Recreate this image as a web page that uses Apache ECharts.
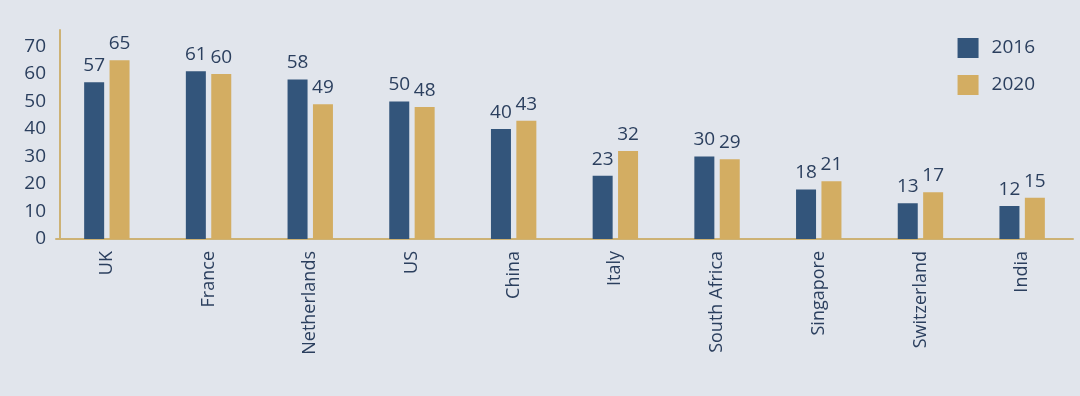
<!DOCTYPE html>
<html><head><meta charset="utf-8">
<script src="https://cdn.jsdelivr.net/npm/echarts@6/dist/echarts.min.js"></script>
<style>html,body{margin:0;padding:0;background:#e1e5ec;}#c{width:1080px;height:396px;}</style>
</head><body><div id="c"></div>
<script>
const categories = ['UK','France','Netherlands','US','China','Italy','South Africa','Singapore','Switzerland','India'];
const values2016 = [57,61,58,50,40,23,30,18,13,12];
const values2020 = [65,60,49,48,43,32,29,21,17,15];
const seriesNames = ['2016','2020'];

const navy = '#2b3f5e';
const font = 'Open Sans';
const chart = echarts.init(document.getElementById('c'));
chart.setOption({
  backgroundColor: '#e1e5ec',
  animation: false,
  textStyle: {fontFamily: font},
  legend: {
    orient: 'vertical', right: 40, top: 33, itemWidth: 21, itemHeight: 20, itemGap: 17,
    icon: 'rect',
    textStyle: {fontSize: 19, color: navy, fontFamily: font, fontWeight: 500, padding: [0,0,0,8]},
    data: seriesNames
  },
  grid: {left: 56, right: 7, top: 30, bottom: 157},
  xAxis: {
    type: 'category', data: categories,
    axisLine: {lineStyle: {color: '#cdb275', width: 2}},
    axisTick: {show: false},
    axisLabel: {rotate: 90, fontSize: 18, fontWeight: 500, color: navy, margin: 12, fontFamily: font}
  },
  yAxis: {
    type: 'value', min: 0, max: 76, interval: 10, offset: -4,
    splitLine: {show: false},
    axisLine: {show: true, lineStyle: {color: '#cdb275', width: 2}},
    axisTick: {show: false},
    axisLabel: {fontSize: 19, fontWeight: 500, color: navy, margin: 14, fontFamily: font, showMaxLabel: false,
      formatter: v => (v % 10 === 0 ? String(v) : '')}
  },
  series: [
    {name: seriesNames[0], type: 'bar', data: values2016, barWidth: 20, barGap: '27%',
     itemStyle: {color: '#33557b'},
     label: {show: true, position: 'top', distance: 7, fontSize: 19, fontWeight: 500, color: navy, fontFamily: font}},
    {name: seriesNames[1], type: 'bar', data: values2020, barWidth: 20,
     itemStyle: {color: '#d3ad62'},
     label: {show: true, position: 'top', distance: 7, fontSize: 19, fontWeight: 500, color: navy, fontFamily: font}}
  ]
});
</script></body></html>
